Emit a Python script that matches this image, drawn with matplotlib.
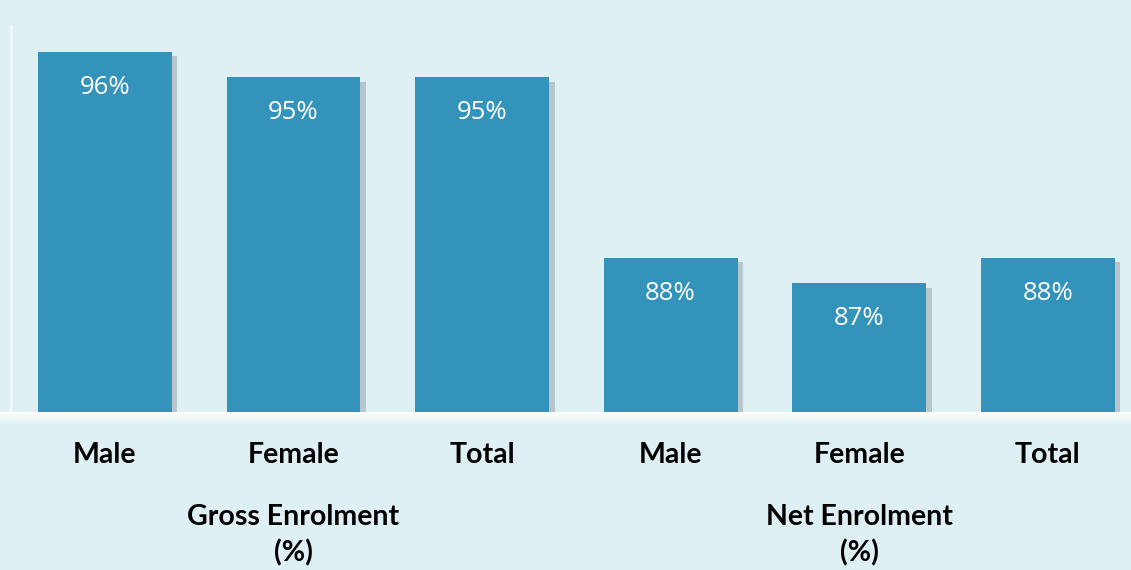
import matplotlib.pyplot as plt
import matplotlib.patheffects as pe
from matplotlib.patches import Rectangle

# data
categories = ['Male', 'Female', 'Total', 'Male', 'Female', 'Total']
values = [96, 95, 95, 88, 87, 88]
groups = ['Gross Enrolment\n(%)', 'Net Enrolment\n(%)']

bg = '#dff0f5'
bar_color = '#3393bb'

fig = plt.figure(figsize=(11.31, 5.70), dpi=100)
fig.patch.set_facecolor(bg)
# axes in pixel terms: left 10.7, right 1142, bottom 412, top 26
W, H = 1131, 570
ax = fig.add_axes([10.7 / W, (H - 412) / H, (1142 - 10.7) / W, (412 - 26) / H])
ax.set_facecolor(bg)

x = list(range(len(values)))
bars = ax.bar(x, values, width=0.71, color=bar_color, zorder=3)
for b in bars:
    b.set_path_effects([pe.SimplePatchShadow(offset=(4, -3), shadow_rgbFace='#8a9498', alpha=0.45),
                        pe.Normal()])

ax.set_xlim(-0.5, 5.5)
ax.set_ylim(82, 97)

# value labels inside the top of each bar
for xi, v in zip(x, values):
    ax.annotate(f'{v}%', (xi, v), xytext=(0, -25.5), textcoords='offset points',
                ha='center', va='center', color='white', fontsize=18.5, family='Open Sans')

ax.set_xticks(x)
ax.set_xticklabels(categories, fontsize=20.5, fontweight='bold', family='Lato')
ax.tick_params(axis='x', length=0, pad=21.5)
ax.set_yticks([])

for s in ['top', 'right']:
    ax.spines[s].set_visible(False)
ax.spines['left'].set_color('#eef8fb')
ax.spines['left'].set_linewidth(2)
ax.spines['bottom'].set_visible(False)

# white band under the baseline
pos = ax.get_position()
for i in range(12):
    fig.patches.append(Rectangle((0, pos.y0 - (i + 1) / H), 1, 1 / H, transform=fig.transFigure,
                                 facecolor='white', alpha=0.95 * (1 - i / 12), edgecolor='none'))

# group labels
for gi, g in enumerate(groups):
    gx = gi * 3 + 1
    ax.annotate(g, (gx, 0), xycoords=('data', 'axes fraction'), xytext=(0, -66),
                textcoords='offset points', ha='center', va='top', fontsize=20.5,
                fontweight='bold', family='Lato', linespacing=1.45)

plt.savefig('out.png', dpi=100, facecolor=bg)
plt.close()
